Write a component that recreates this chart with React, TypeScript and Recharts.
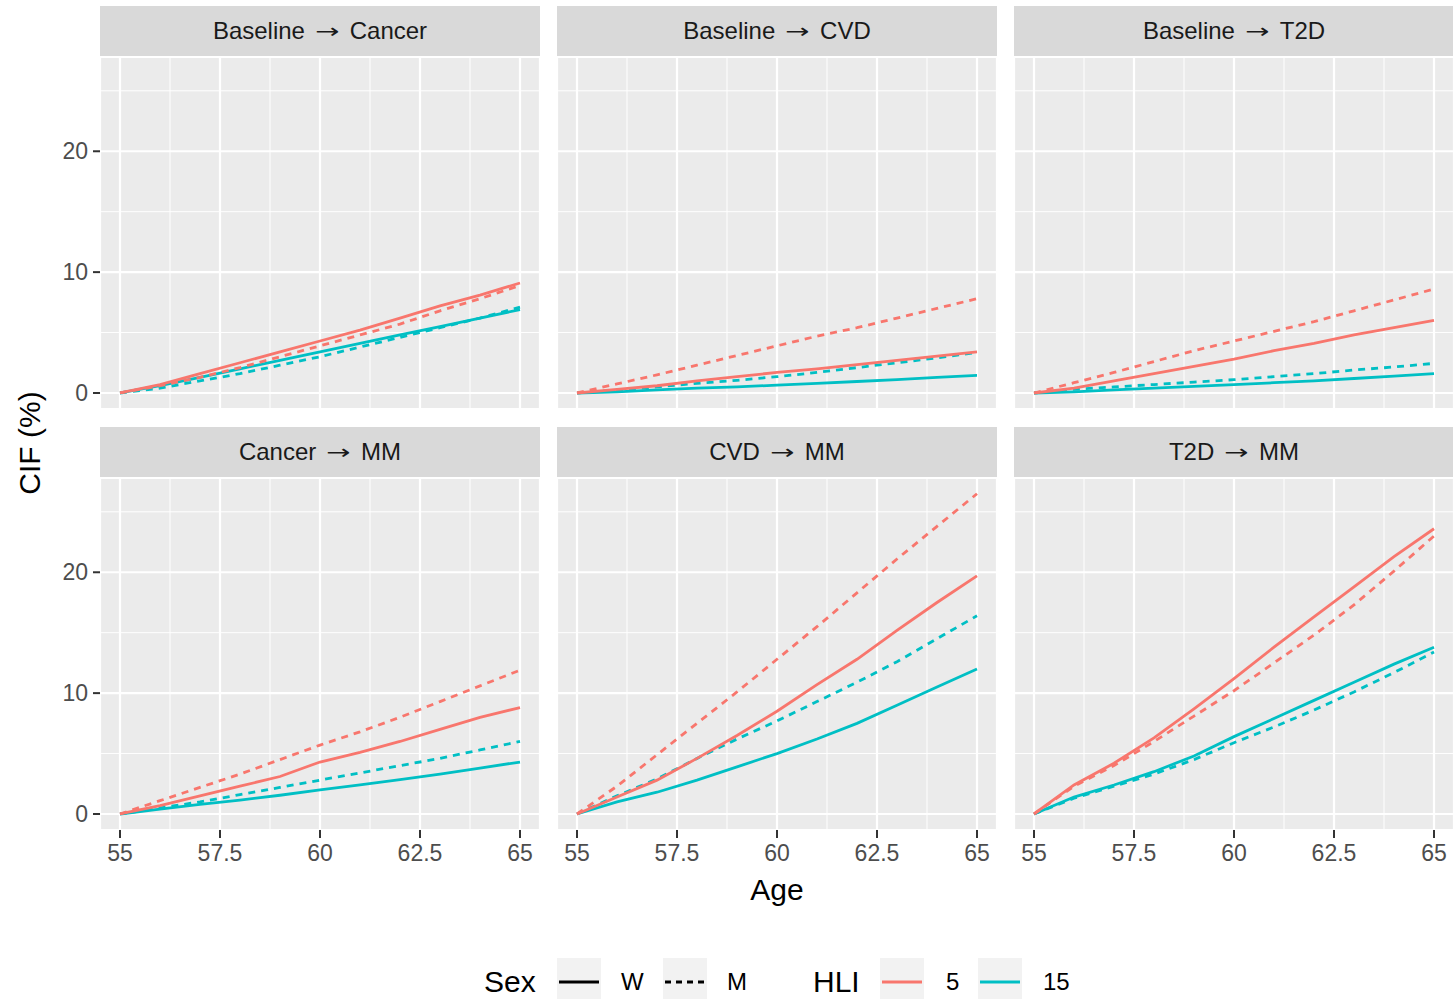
import React from 'react';
import { LineChart, Line, XAxis, YAxis, CartesianGrid } from 'recharts';

// ages sampled along x axis
const ages = [55, 56, 57, 58, 59, 60, 61, 62, 63, 64, 65];

// Baseline -> Cancer
const bcW5 = [0, 0.7, 1.6, 2.5, 3.4, 4.3, 5.2, 6.2, 7.2, 8.1, 9.1];
const bcM5 = [0, 0.6, 1.3, 2.1, 3.0, 3.9, 4.8, 5.7, 6.8, 7.8, 8.9];
const bcW15 = [0, 0.6, 1.3, 2.0, 2.7, 3.4, 4.1, 4.8, 5.5, 6.2, 6.9];
const bcM15 = [0, 0.4, 1.0, 1.6, 2.3, 3.0, 3.8, 4.6, 5.4, 6.2, 7.1];

// Baseline -> CVD
const bvW5 = [0, 0.3, 0.6, 1.0, 1.35, 1.7, 2.0, 2.35, 2.7, 3.05, 3.4];
const bvM5 = [0, 0.75, 1.5, 2.3, 3.1, 3.9, 4.7, 5.4, 6.2, 7.0, 7.8];
const bvW15 = [0, 0.1, 0.25, 0.4, 0.5, 0.65, 0.8, 0.95, 1.1, 1.3, 1.45];
const bvM15 = [0, 0.25, 0.5, 0.8, 1.05, 1.35, 1.7, 2.1, 2.5, 2.9, 3.35];

// Baseline -> T2D
const btW5 = [0, 0.4, 1.0, 1.6, 2.2, 2.8, 3.5, 4.1, 4.8, 5.4, 6.0];
const btM5 = [0, 0.85, 1.7, 2.6, 3.5, 4.3, 5.1, 5.9, 6.8, 7.7, 8.6];
const btW15 = [0, 0.1, 0.25, 0.4, 0.55, 0.7, 0.85, 1.0, 1.2, 1.4, 1.6];
const btM15 = [0, 0.3, 0.5, 0.7, 0.9, 1.1, 1.35, 1.6, 1.9, 2.15, 2.45];

// Cancer -> MM
const cmW5 = [0, 0.7, 1.5, 2.3, 3.1, 4.3, 5.1, 6.0, 7.0, 8.0, 8.8];
const cmM5 = [0, 1.1, 2.2, 3.3, 4.5, 5.7, 6.8, 8.0, 9.3, 10.6, 11.9];
const cmW15 = [0, 0.4, 0.8, 1.15, 1.55, 2.0, 2.4, 2.85, 3.3, 3.8, 4.3];
const cmM15 = [0, 0.5, 1.0, 1.6, 2.2, 2.8, 3.4, 4.0, 4.6, 5.3, 6.0];

// CVD -> MM
const vmW5 = [0, 1.4, 2.8, 4.6, 6.5, 8.5, 10.7, 12.8, 15.2, 17.5, 19.7];
const vmM5 = [0, 2.3, 4.9, 7.5, 10.1, 12.8, 15.5, 18.3, 21.1, 23.8, 26.5];
const vmW15 = [0, 1.0, 1.8, 2.8, 3.9, 5.0, 6.2, 7.5, 9.0, 10.5, 12.0];
const vmM15 = [0, 1.5, 2.9, 4.6, 6.2, 7.7, 9.3, 10.9, 12.6, 14.5, 16.4];

// T2D -> MM
const tmW5 = [0, 2.4, 4.2, 6.3, 8.7, 11.2, 13.8, 16.3, 18.8, 21.3, 23.6];
const tmM5 = [0, 2.3, 4.0, 6.0, 8.1, 10.2, 12.5, 14.8, 17.3, 20.1, 23.0];
const tmW15 = [0, 1.4, 2.4, 3.5, 4.8, 6.4, 7.9, 9.4, 10.9, 12.4, 13.8];
const tmM15 = [0, 1.3, 2.3, 3.3, 4.5, 5.9, 7.2, 8.6, 10.1, 11.7, 13.4];

const xTicks = [55, 57.5, 60, 62.5, 65];
const xMinor = [56.25, 58.75, 61.25, 63.75];
const yTicks = [0, 10, 20];
const yMinor = [5, 15, 25];

const RED = '#F8766D';
const TEAL = '#00BFC4';
const FONT = '"Liberation Sans", Arial, Helvetica, sans-serif';

const panels = [
  { from: 'Baseline', to: 'Cancer', w5: bcW5, m5: bcM5, w15: bcW15, m15: bcM15 },
  { from: 'Baseline', to: 'CVD', w5: bvW5, m5: bvM5, w15: bvW15, m15: bvM15 },
  { from: 'Baseline', to: 'T2D', w5: btW5, m5: btM5, w15: btW15, m15: btM15 },
  { from: 'Cancer', to: 'MM', w5: cmW5, m5: cmM5, w15: cmW15, m15: cmM15 },
  { from: 'CVD', to: 'MM', w5: vmW5, m5: vmM5, w15: vmW15, m15: vmM15 },
  { from: 'T2D', to: 'MM', w5: tmW5, m5: tmM5, w15: tmW15, m15: tmM15 },
];

const colLeft = [100, 557, 1014];
const rowTop = [6, 427];
const PW = 440;
const PH = 352;
const STRIP = 50;
const YW = 100;
const XH = 50;

function Panel({ p, col, row }: { p: any; col: number; row: number }) {
  const data = ages.map((a, i) => ({ age: a, w5: p.w5[i], m5: p.m5[i], w15: p.w15[i], m15: p.m15[i] }));
  const showY = col === 0;
  const showX = row === 1;
  const cw = PW + (showY ? YW : 0);
  const ch = PH + (showX ? XH : 0);
  const left = colLeft[col];
  const top = rowTop[row];
  const tickStyle = { fill: '#4D4D4D', fontSize: 23, fontFamily: FONT };
  return (
    <>
      <div
        style={{
          position: 'absolute', left, top, width: PW, height: STRIP, background: '#D9D9D9',
          display: 'flex', alignItems: 'center', justifyContent: 'center',
          fontSize: 24, color: '#1A1A1A', whiteSpace: 'pre',
        }}
      >
        {p.from}
        <span
          style={{
            display: 'inline-block', fontFamily: '"DejaVu Sans", sans-serif', fontSize: 20,
            transform: 'scaleX(1.45)', margin: '0 14px',
          }}
        >
          {'\u2192'}
        </span>
        {p.to}
      </div>
      <div style={{ position: 'absolute', left: left - (showY ? YW : 0), top: top + STRIP + 1 }}>
        <LineChart width={cw} height={ch} data={data} margin={{ top: 0, right: 0, bottom: 0, left: 0 }}>
          <XAxis xAxisId="minor" dataKey="age" type="number" domain={[54.5, 65.5]} ticks={xMinor} allowDataOverflow hide />
          <YAxis yAxisId="minor" type="number" domain={[-1.325, 27.8]} ticks={yMinor} allowDataOverflow hide />
          <CartesianGrid xAxisId="minor" yAxisId="minor" fill="#EBEBEB" stroke="#FFFFFF" strokeWidth={1} strokeDasharray="" />
          <CartesianGrid stroke="#FFFFFF" strokeWidth={2.2} strokeDasharray="" />
          <XAxis
            dataKey="age" type="number" domain={[54.5, 65.5]} ticks={xTicks} allowDataOverflow
            hide={!showX} height={XH} axisLine={false} tickSize={8} tickMargin={7}
            tickLine={{ stroke: '#333333', strokeWidth: 2 }} tick={tickStyle}
            tickFormatter={(v: number) => String(v)}
          />
          <YAxis
            type="number" domain={[-1.325, 27.8]} ticks={yTicks} allowDataOverflow
            hide={!showY} width={YW} axisLine={false} tickSize={7} tickMargin={5}
            tickLine={{ stroke: '#333333', strokeWidth: 2 }} tick={tickStyle}
          />
          <Line dataKey="m15" stroke={TEAL} strokeWidth={2.8} strokeDasharray="7 6" dot={false} isAnimationActive={false} />
          <Line dataKey="w15" stroke={TEAL} strokeWidth={2.8} dot={false} isAnimationActive={false} />
          <Line dataKey="m5" stroke={RED} strokeWidth={2.8} strokeDasharray="7 6" dot={false} isAnimationActive={false} />
          <Line dataKey="w5" stroke={RED} strokeWidth={2.8} dot={false} isAnimationActive={false} />
        </LineChart>
      </div>
    </>
  );
}

function Key({ x, color, dashed }: { x: number; color: string; dashed?: boolean }) {
  return (
    <svg style={{ position: 'absolute', left: x, top: 958 }} width={44} height={41}>
      <rect x={0} y={0} width={44} height={41} fill="#F2F2F2" />
      <line x1={2} x2={42} y1={24} y2={24} stroke={color} strokeWidth={3} strokeDasharray={dashed ? '6 5' : undefined} />
    </svg>
  );
}

export default function App() {
  const label = (text: string, x: number, size: number) => (
    <div style={{ position: 'absolute', left: x, top: 982 - size * 0.6, fontSize: size, color: '#000', lineHeight: 1.2 }}>{text}</div>
  );
  return (
    <div style={{ position: 'absolute', left: 0, top: 0, width: 1453, height: 999, background: '#FFFFFF', fontFamily: FONT, overflow: 'hidden' }}>
      {panels.map((p, i) => (
        <Panel key={i} p={p} col={i % 3} row={Math.floor(i / 3)} />
      ))}
      <div
        style={{
          position: 'absolute', left: 30, top: 443, transform: 'translate(-50%, -50%) rotate(-90deg)',
          fontSize: 30, color: '#000', whiteSpace: 'nowrap',
        }}
      >
        CIF (%)
      </div>
      <div style={{ position: 'absolute', left: 777, top: 890, transform: 'translate(-50%, -50%)', fontSize: 30, color: '#000' }}>
        Age
      </div>
      {label('Sex', 484, 30)}
      <Key x={557} color="#000000" />
      {label('W', 621, 24)}
      <Key x={663} color="#000000" dashed />
      {label('M', 727, 24)}
      {label('HLI', 813, 30)}
      <Key x={880} color={RED} />
      {label('5', 946, 24)}
      <Key x={978} color={TEAL} />
      {label('15', 1043, 24)}
    </div>
  );
}
